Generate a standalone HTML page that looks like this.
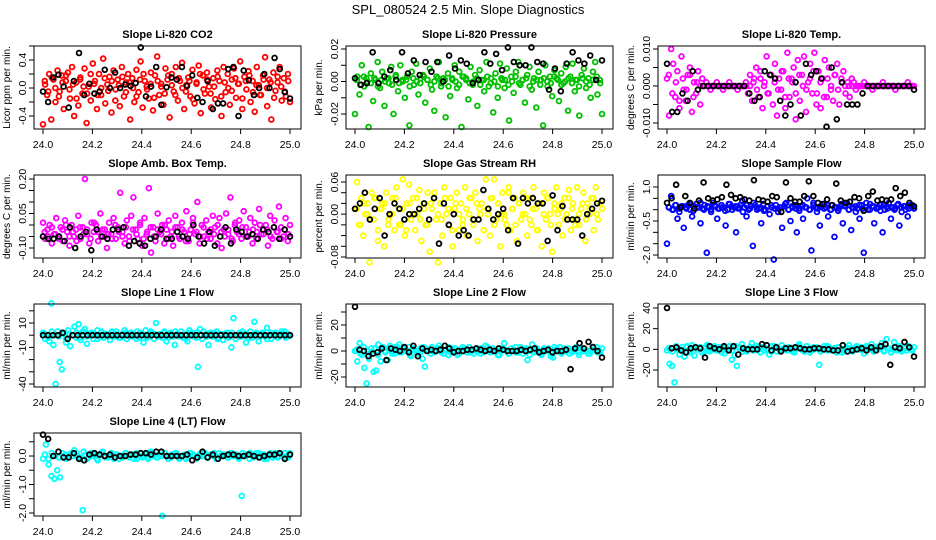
<!DOCTYPE html>
<html>
<head>
<meta charset="utf-8">
<style>
  html, body { margin: 0; padding: 0; background: #fff; }
  svg { display: block; font-family: "Liberation Sans", sans-serif; }
</style>
</head>
<body>
<svg id="chart" width="936" height="540" viewBox="0 0 936 540">
  <text x="468" y="14" text-anchor="middle" font-size="13" fill="#000">SPL_080524  2.5 Min. Slope Diagnostics</text>
</svg>
<script>
// ---------------- data ----------------
const xTickLabels = ["24.0","24.2","24.4","24.6","24.8","25.0"];
const xTickValues = [24.0,24.2,24.4,24.6,24.8,25.0];
const xStart = 24.0;
const xEnd = 25.0;

const co2Values = [-0.52,0.05,-0.1,0.2,-0.45,0.12,-0.2,0.25,-0.05,0.18,-0.3,0.1,0.22,-0.15,0.3,-0.4,0.08,-0.25,0.15,-0.08,0.28,-0.5,0.02,-0.18,0.35,0.1,-0.3,0.2,-0.1,0.42,-0.22,0.05,0.16,-0.35,0.25,-0.02,0.12,-0.26,0.3,-0.12,0.08,0.2,-0.45,0.14,-0.2,0.26,-0.06,0.38,-0.28,0.1,0.02,-0.15,0.22,-0.32,0.18,0.45,-0.1,0.06,-0.24,0.28,0.12,-0.42,0.2,-0.05,0.3,-0.18,0.1,0.36,-0.3,0.04,0.15,-0.12,0.26,-0.22,0.08,0.32,-0.36,0.18,-0.08,0.22,0.02,-0.28,0.14,-0.16,0.25,0.1,-0.4,0.3,-0.06,0.2,-0.24,0.12,0.28,-0.14,0.06,0.38,-0.3,0.16,-0.02,0.24,-0.2,0.1,-0.34,0.3,0.04,-0.1,0.18,0.44,-0.26,0.12,-0.45,0.22,-0.04,0.08,0.3,-0.18,0.14,-0.12,0.2,-0.2];
const co2Core = [0.1,-0.05,0.15,0.0,-0.12,0.08,0.18,-0.02,0.05,-0.15,0.12,0.02,-0.08,0.2,0.06,-0.1,0.0,0.14,-0.04,0.1,-0.18,0.04,0.16,-0.06,0.08,0.0,-0.12,0.12,0.2,-0.02,0.06,-0.14,0.1,0.02,-0.08,0.18,0.04,-0.1,0.14,0.0,-0.05,0.1,-0.16,0.06,0.2,-0.02,0.12,-0.08,0.02,0.16,-0.12,0.08,0.0,-0.04,0.14,0.06,-0.15,0.1,0.18,-0.06,0.04,-0.1,0.12,0.0,0.08,-0.14,0.16,0.02,-0.05,0.1];
const co2Black = [-0.05,-0.2,0.15,0.19,0.02,-0.28,0.1,0.5,-0.1,0.06,-0.08,-0.05,0.26,0.0,0.22,0.0,0.05,0.03,0.07,0.58,-0.12,0.02,0.3,-0.24,0.01,0.15,0.12,0.3,0.03,0.18,-0.14,-0.2,0.1,-0.3,-0.22,-0.22,0.27,0.3,-0.4,0.25,0.11,-0.1,0.0,0.2,0.0,0.43,0.27,-0.06,-0.15];

const pressValues = [-0.02,0.003,-0.008,0.01,-0.003,0.002,-0.028,0.005,-0.012,0.001,0.012,-0.004,0.006,-0.015,0.002,-0.001,0.009,-0.02,0.004,-0.006,0.01,0.001,-0.01,0.003,-0.027,0.006,-0.002,0.011,-0.008,0.002,0.004,-0.013,0.001,0.008,-0.005,-0.018,0.003,0.012,-0.003,0.002,-0.022,0.005,-0.009,0.001,0.01,-0.004,0.006,-0.028,0.003,0.002,-0.011,0.009,-0.002,0.004,-0.015,0.007,0.001,-0.006,0.012,-0.003,0.002,-0.019,0.005,-0.01,0.011,0.001,-0.004,0.008,-0.024,0.003,-0.007,0.006,0.012,-0.002,0.001,-0.013,0.004,0.009,-0.005,0.002,-0.016,0.006,0.001,-0.027,0.01,-0.003,0.003,-0.009,0.007,0.002,-0.012,0.005,-0.001,0.009,-0.018,0.003,0.011,-0.006,0.001,-0.021,0.004,0.008,-0.004,0.002,-0.01,0.006,0.012,-0.008,0.001,-0.02];
const pressCore = [0.001,-0.002,0.003,0.0,-0.001,0.002,-0.003,0.001,0.0,0.002,-0.002,0.003,-0.001,0.0,0.001,-0.003,0.002,0.0,-0.001,0.003,0.001,-0.002,0.0,0.002,-0.001,0.001,-0.003,0.002,0.0,-0.002,0.003,0.001,-0.001,0.0,0.002,-0.002,0.001,0.003,-0.001,0.0,-0.003,0.002,0.001,-0.002,0.0,0.003,-0.001,0.001,0.002,-0.003,0.0,0.001,-0.002,0.002,0.0,-0.001,0.003,0.001,-0.002,0.0,0.002,-0.001,0.001,-0.003,0.002,0.0,-0.002,0.001,0.003,-0.001];
const pressBlack = [0.002,-0.002,-0.001,0.018,-0.001,0.003,0.007,0.001,0.018,0.005,0.013,0.004,0.012,0.006,0.012,0.0,0.016,0.008,0.013,0.011,-0.001,0.001,0.018,0.011,0.017,0.007,0.021,0.012,0.01,0.01,0.021,0.012,0.011,-0.005,0.008,-0.006,0.011,0.018,0.013,0.011,0.016,0.001,0.013];

const tempValues = [0.002,-0.008,0.01,0.006,-0.003,0.004,-0.006,0.008,-0.001,-0.004,0.003,0.005,-0.007,0.001,-0.002,0.004,-0.005,0.002,0,0.001,0,-0.001,0,0,0.001,0,0,-0.001,0,0,0.001,0,0,0,-0.001,0,0,0,0.001,-0.002,0.003,-0.004,0.002,0.005,-0.003,0.004,-0.006,0.001,0.008,-0.002,0.003,-0.005,0.006,-0.008,0.002,-0.001,0.004,-0.006,0.009,-0.003,0.002,0.005,-0.009,0.007,-0.004,0.003,0.008,-0.007,0.001,0.006,-0.002,0.009,-0.005,0.004,-0.006,0.002,0.007,-0.003,0.005,-0.001,-0.004,0.003,0.006,-0.005,0.002,0.004,-0.002,0.001,-0.003,0.002,0.001,-0.001,0,0,0,0.001,0,0,0,-0.001,0,0,0,0,0.001,0,0,0,0,0,-0.001,0,0,0,0,0,0.001,0,0,0];
const tempCore = [0.003,-0.002,0.001,-0.004,0.002,-0.001,0.003,-0.003,0.001,0,0,0,0,0,0,0,0,0,0,0,0,0,0,0,0.001,-0.001,0.002,0.0,-0.002,0.003,0.001,-0.001,0.004,-0.003,0.002,0.001,-0.002,0.003,0.0,-0.001,0.002,0.004,-0.002,0.001,-0.003,0.002,0.0,0.003,-0.001,0.001,0.0,0,0,0,0,0,0,0,0,0,0,0,0,0,0,0,0,0,0,0];
const tempBlack = [0.006,-0.007,-0.007,-0.002,-0.004,0.004,-0.001,0,0,0,0,0,0,0,0,0,-0.002,-0.004,-0.003,0.004,0.003,0.002,-0.004,-0.008,-0.005,0.001,-0.008,0.006,0.003,0.004,0.002,-0.011,0.005,-0.009,0.001,-0.005,-0.005,-0.005,-0.002,0,0,0,0,0,0,0,0,0,-0.001];

const ambValues = [0.01,-0.06,-0.02,0.0,-0.08,-0.04,0.03,-0.05,-0.01,-0.07,0.02,-0.03,-0.09,0.0,-0.05,-0.02,0.04,-0.06,-0.01,0.2,-0.04,-0.08,0.01,-0.03,0.0,-0.07,0.05,-0.02,-0.05,-0.1,0.01,-0.04,0.03,-0.06,-0.01,0.14,-0.03,-0.08,0.02,-0.05,0.04,0.12,-0.02,-0.06,0.0,-0.09,0.03,-0.04,0.16,-0.12,-0.01,-0.07,0.05,-0.03,0.0,-0.08,-0.02,0.02,-0.05,-0.09,0.04,-0.01,-0.06,0.01,-0.03,0.06,-0.07,-0.02,0.03,-0.04,0.1,-0.08,0.0,-0.05,0.02,-0.03,-0.06,0.04,-0.01,-0.08,0.03,-0.1,-0.02,0.05,-0.04,0.12,-0.07,0.0,-0.03,0.02,-0.06,0.06,-0.01,-0.05,0.03,-0.08,0.01,-0.03,0.07,-0.04,-0.02,0.0,-0.09,0.04,-0.06,0.02,-0.03,0.08,-0.01,-0.05,0.03,-0.07,0.0];
const ambCore = [-0.03,-0.05,-0.01,-0.04,-0.06,-0.02,0.0,-0.05,-0.03,-0.07,-0.01,-0.04,-0.02,-0.06,0.01,-0.03,-0.05,-0.02,-0.04,-0.06,0.0,-0.03,-0.05,-0.01,-0.07,-0.02,-0.04,0.01,-0.06,-0.03,-0.01,-0.05,-0.02,-0.04,0.0,-0.06,-0.03,-0.01,-0.05,-0.02,-0.07,-0.04,0.01,-0.03,-0.05,-0.01,-0.06,-0.02,-0.04,0.0,-0.03,-0.05,-0.02,-0.06,0.01,-0.04,-0.01,-0.05,-0.03,-0.02,-0.06,0.0,-0.04,-0.02,-0.05,-0.01,-0.03,-0.06,-0.02,-0.04];
const ambBlack = [-0.05,-0.06,-0.06,-0.05,-0.07,-0.01,-0.1,-0.05,-0.03,-0.11,-0.02,-0.05,-0.06,-0.02,-0.02,-0.01,-0.09,-0.07,-0.08,-0.09,-0.06,-0.05,-0.02,-0.06,-0.06,-0.03,-0.05,-0.06,0.0,-0.05,-0.08,-0.03,-0.09,-0.05,-0.01,-0.08,-0.02,-0.03,-0.05,-0.04,-0.06,-0.02,-0.03,-0.01,-0.06,-0.02,-0.05];

const rhValues = [0.01,0.06,-0.02,0.03,-0.04,0.0,0.02,-0.09,0.04,-0.01,0.03,-0.05,0.01,0.02,-0.06,0.04,-0.02,0.0,0.03,-0.03,0.05,0.01,-0.02,0.065,-0.04,0.02,0.055,-0.01,0.03,-0.03,0.0,0.045,-0.05,0.02,-0.02,0.04,-0.07,0.01,0.03,-0.01,-0.09,0.02,-0.04,0.05,0.0,-0.02,0.03,-0.06,0.01,0.04,-0.03,0.02,-0.01,0.05,-0.04,0.0,0.03,-0.02,0.04,-0.05,0.01,0.02,-0.03,0.065,0.0,-0.04,0.03,0.065,-0.01,0.02,-0.06,0.04,0.0,-0.02,0.05,-0.03,0.01,0.03,-0.05,0.02,-0.01,0.04,0.0,-0.04,0.03,-0.02,0.05,0.01,-0.03,0.02,-0.06,0.04,-0.01,0.03,0.0,-0.07,0.02,0.05,-0.02,0.01,-0.04,0.03,0.0,0.045,-0.03,0.02,-0.01,0.05,-0.02,0.01,0.04,-0.05,0.02,0.0,0.03,-0.03,0.05,-0.01,0.02,0.01];
const rhCore = [0.01,-0.02,0.02,0.0,-0.01,0.03,-0.03,0.01,0.02,-0.01,0.0,0.03,-0.02,0.01,-0.03,0.02,0.0,0.03,-0.01,0.01,-0.02,0.02,0.04,0.0,-0.01,0.03,0.01,-0.03,0.02,0.0,-0.02,0.01,0.03,-0.01,0.02,0.0,-0.03,0.01,0.03,-0.02,0.02,0.0,-0.01,0.04,0.01,-0.02,0.02,0.0,0.03,-0.01,0.01,-0.03,0.02,0.0,0.03,-0.02,0.01,0.0,0.02,-0.01,0.03,0.01,-0.02,0.0,0.02,-0.01,0.01,0.03,0.0,0.02];
const rhBlack = [0.01,0.02,0.04,-0.01,0.01,0.03,-0.04,0.0,0.02,0.01,-0.01,0.0,0.0,0.01,0.02,-0.01,0.03,-0.055,0.02,-0.02,0.0,-0.04,-0.03,-0.04,-0.01,-0.01,0.045,0.01,-0.01,0.0,0.01,-0.03,0.03,-0.055,0.03,0.02,0.03,0.02,0.02,-0.05,0.035,-0.03,0.015,-0.01,-0.01,-0.01,-0.04,0.0,0.01,0.02,0.025];

const sampleValues = [-1.5,0.1,0.6,0.0,0.2,-0.4,0.05,0.15,-0.8,0.1,0.2,0.0,-0.3,0.15,0.25,0.1,-0.6,0.05,0.2,-1.9,0.1,0.0,0.3,0.15,-0.4,0.05,0.2,0.1,-0.7,0.0,0.25,0.15,0.1,-1.0,0.05,0.2,0.4,0.1,-0.3,0.0,0.15,-1.6,0.2,0.1,0.05,-0.6,0.25,0.0,0.15,-0.2,0.1,-2.2,0.2,0.05,0.1,-0.8,0.15,0.3,0.0,-0.5,0.1,0.2,-1.0,0.05,0.15,-0.4,0.1,0.5,0.0,-1.8,0.2,0.1,0.05,-0.7,0.15,0.25,0.1,-0.3,0.0,0.2,-1.2,0.1,0.05,0.15,-0.6,0.2,0.3,0.0,-0.9,0.1,0.15,0.05,-0.4,0.2,-1.9,0.1,0.0,0.25,0.15,-0.6,0.05,0.1,0.2,-1.0,0.0,0.15,0.3,-0.4,0.1,0.05,0.2,-0.7,0.1,0.15,0.0,-0.3,0.2,0.1,0.05];
const sampleCore = [0.1,0.0,0.2,-0.1,0.15,0.05,0.25,-0.05,0.1,0.3,0.0,0.15,-0.1,0.2,0.05,0.1,-0.05,0.25,0.0,0.15,0.1,-0.1,0.2,0.05,0.3,0.0,0.1,-0.05,0.15,0.2,0.05,-0.1,0.1,0.25,0.0,0.15,0.05,-0.05,0.2,0.1,0.0,0.3,-0.1,0.15,0.05,0.2,0.0,0.1,-0.05,0.25,0.15,0.0,0.1,-0.1,0.2,0.05,0.3,0.0,0.15,0.1,-0.05,0.2,0.05,0.1,0.0,0.25,-0.1,0.15,0.05,0.2];
const sampleBlack = [0.3,0.5,1.1,0.1,0.6,0.3,0.05,0.4,1.2,0.5,0.4,0.45,0.55,1.1,0.65,0.5,0.55,0.45,0.4,1.3,0.45,0.4,0.35,0.6,0.55,-0.1,1.2,0.5,0.35,0.35,0.6,1.25,0.6,0.3,0.25,0.45,0.2,1.15,0.4,0.3,0.35,0.55,0.5,-0.05,0.6,0.8,0.4,0.45,0.4,0.45,0.95,0.6,0.75,0.3,0.15];

const line1Values = [2,-3,0,-5,26,-8,-40,3,-22,-28,1,-6,4,-9,0,7,-2,9,-4,3,5,-7,1,2,-3,0,4,-1,3,-2,1,0,-4,2,-1,3,0,-2,1,4,-3,0,2,-1,0,3,-2,1,-6,4,0,-1,2,-3,10,0,1,-2,3,-5,0,2,-1,-8,1,0,3,-2,1,-5,4,0,-1,2,-26,5,-3,0,1,-8,2,-1,0,3,-2,1,-4,0,2,-1,-10,14,-3,0,2,-1,1,-6,0,3,-2,11,1,-5,0,2,-1,6,0,-3,1,2,0,-1,3,0,-2,1,0];
const line1Core = [1,-2,3,0,-1,2,-3,1,0,2,-2,3,-1,0,1,-3,2,0,-1,3,1,-2,0,2,-1,1,-3,2,0,-2,3,1,-1,0,2,-2,1,3,-1,0,-3,2,1,-2,0,3,-1,1,2,-3,0,1,-2,2,0,-1,3,1,-2,0,2,-1,1,-3,2,0,-2,1,3,-1];
const line1Black = [0,0,0,0,2,-3,0,0,0,0,0,0,0,0,0,0,0,0,0,0,0,0,0,0,0,0,0,0,0,0,0,0,0,0,0,0,0,0,0,0,0,0,0,0,0,0,0,0,0,0,0];

const line2Values = [0,-8,6,-3,-13,-25,-6,2,-16,-15,5,-8,3,-1,-7,4,0,-2,3,5,-1,2,0,3,-4,1,0,-2,2,-6,-12,1,0,3,-1,2,4,0,-2,1,3,-1,0,2,-3,1,0,2,-1,3,0,-2,1,0,2,-1,4,0,-1,2,1,0,-3,1,6,0,-2,2,1,-1,0,3,-2,1,-7,0,5,-1,2,0,-3,1,0,2,-4,-5,1,0,3,-1,2,0,-2,1,0,3,-1,2,0,1,-2,0,3,1,-1,0,2];
const line2Core = [1,-2,3,0,-1,2,-3,1,0,2,-2,3,-1,0,1,-3,2,0,-1,3,1,-2,0,2,-1,1,-3,2,0,-2,3,1,-1,0,2,-2,1,3,-1,0,-3,2,1,-2,0,3,-1,1,2,-3,0,1,-2,2,0,-1,3,1,-2,0,2,-1,1,-3,2,0,-2,1,3,-1];
const line2Black = [34,1,0,-4,-2,-1,2,-7,2,1,0,3,-1,4,-4,2,0,1,0,1,4,2,-1,0,0,1,1,2,1,0,1,0,2,1,0,0,0,1,0,1,2,-1,0,1,-1,0,0,1,-14,2,6,2,7,3,0,-5];

const line3Values = [-1,-14,-16,-32,0,-5,2,-7,3,-1,4,-6,0,2,-3,1,4,-2,0,3,-1,2,0,-4,1,3,-10,-6,-16,2,5,0,-2,1,6,-1,3,0,2,-1,0,-5,3,1,-2,0,4,1,-1,2,0,-3,1,5,0,-2,3,1,-1,0,2,-15,0,3,-1,2,0,1,-3,2,0,-2,1,4,0,-1,3,0,2,-4,1,0,5,-1,2,0,6,-2,10,1,0,7,-1,3,0,2,-1,1,0,2];
const line3Core = [1,-2,3,0,-1,2,-3,1,0,2,-2,3,-1,0,1,-3,2,0,-1,3,1,-2,0,2,-1,1,-3,2,0,-2,3,1,-1,0,2,-2,1,3,-1,0,-3,2,1,-2,0,3,-1,1,2,-3,0,1,-2,2,0,-1,3,1,-2,0,2,-1,1,-3,2,0,-2,1,3,-1];
const line3Black = [40,1,2,-1,-3,1,2,1,-8,3,1,0,3,-1,3,-5,1,0,0,0,5,4,-1,2,-2,1,1,2,1,0,0,1,1,0,0,-1,-1,4,-2,-1,0,1,-1,2,-1,3,5,-15,2,1,7,2,-7];

const line4Values = [-0.1,0.4,-0.3,-0.7,-0.8,-0.5,-0.75,0.0,0.05,-0.05,0.1,0.2,0.0,-0.1,-1.9,0.05,-0.05,0.1,0.0,-0.1,0.05,0.15,-0.05,0.0,0.1,-0.1,0.05,0.0,-0.05,0.1,0.0,0.05,-0.1,0.1,0.0,-0.05,0.05,-0.1,0.1,0.0,-0.05,0.05,-2.1,0.1,0.0,-0.05,0.05,0.1,-0.1,0.0,0.05,-0.05,0.1,0.0,-0.1,0.05,0.0,0.1,-0.05,0.05,0.0,-0.1,0.1,0.05,0.0,-0.05,0.1,0.0,0.05,-0.1,-1.4,0.0,0.05,0.1,-0.05,0.0,0.1,0.05,-0.1,0.0,0.05,-0.05,0.1,0.0,0.05,-0.05,0.0,0.1];
const line4Core = [0.05,-0.1,0.1,0.0,-0.05,0.1,-0.1,0.05,0.0,0.1,-0.05,0.15,-0.1,0.0,0.05,-0.15,0.1,0.0,-0.05,0.1,0.05,-0.1,0.0,0.1,-0.05,0.05,-0.1,0.1,0.0,-0.05,0.15,0.05,-0.05,0.0,0.1,-0.1,0.05,0.1,-0.05,0.0,-0.1,0.1,0.05,-0.05,0.0,0.1,-0.05,0.05,0.1,-0.1,0.0,0.05,-0.05,0.1,0.0,-0.05,0.1,0.05,-0.1,0.0,0.1,-0.05,0.05,-0.1,0.1,0.0,-0.05,0.05,0.1,-0.05];
const line4Black = [0.75,0.6,0.0,0.15,-0.05,-0.05,0.1,-0.1,-0.15,0.05,0.1,0.05,0.0,0.05,-0.05,0.0,0.0,0.05,0.05,0.1,0.1,0.05,0.15,0.15,0.0,0.0,0.0,0.0,0.05,-0.15,-0.05,0.15,-0.05,0.05,-0.1,0.0,0.05,0.05,0.0,0.0,0.05,0.0,-0.05,0.0,0.05,0.05,0.1,-0.1,0.05];

// ---------------- layout (pixels, not data) ----------------
const colLeft = [34, 346, 658];
const rowTop = [46, 175, 304, 433];
const boxW = 267, boxH = 83;
const panels = [
  {name:"co2", title:"Slope Li-820 CO2", ylab:"Licor ppm per min.", col:0,row:0, color:"#ff0000", vals:co2Values, core:co2Core, blk:co2Black, ref:[0.4,60,-0.4,116], ticks:[-0.4,-0.2,0,0.2,0.4,0.6], labels:{"-0.4":"-0.4","0":"0.0","0.4":"0.4"}},
  {name:"pressure", title:"Slope Li-820 Pressure", ylab:"kPa per min.", col:1,row:0, color:"#00c000", vals:pressValues, core:pressCore, blk:pressBlack, ref:[0.02,49,-0.02,114], ticks:[-0.02,-0.01,0,0.01,0.02], labels:{"-0.02":"-0.02","0":"0.00","0.02":"0.02"}},
  {name:"temp", title:"Slope Li-820 Temp.", ylab:"degrees C per min.", col:2,row:0, color:"#ff00ff", vals:tempValues, core:tempCore, blk:tempBlack, ref:[0.01,49,-0.01,123], ticks:[-0.01,-0.005,0,0.005,0.01], labels:{"-0.01":"-0.010","0":"0.000","0.01":"0.010"}},
  {name:"amb-box-temp", title:"Slope Amb. Box Temp.", ylab:"degrees C per min.", col:0,row:1, color:"#ff00ff", vals:ambValues, core:ambCore, blk:ambBlack, ref:[0.2,179,-0.1,248], ticks:[-0.1,-0.05,0,0.05,0.1,0.15,0.2], labels:{"-0.1":"-0.10","0.05":"0.05","0.2":"0.20"}},
  {name:"gas-stream-rh", title:"Slope Gas Stream RH", ylab:"percent per min.", col:1,row:1, color:"#ffff00", vals:rhValues, core:rhCore, blk:rhBlack, ref:[0.06,182,-0.08,257], ticks:[-0.08,-0.06,-0.04,-0.02,0,0.02,0.04,0.06], labels:{"-0.08":"-0.08","0":"0.00","0.06":"0.06"}},
  {name:"sample-flow", title:"Slope Sample Flow", ylab:"ml/min per min.", col:2,row:1, color:"#0000ff", vals:sampleValues, core:sampleCore, blk:sampleBlack, ref:[1.0,187,-2.0,255], ticks:[-2,-1.5,-1,-0.5,0,0.5,1], labels:{"1":"1.0","-0.5":"-0.5","-2":"-2.0"}},
  {name:"line1-flow", title:"Slope Line 1 Flow", ylab:"ml/min per min.", col:0,row:2, color:"#00ffff", vals:line1Values, core:line1Core, blk:line1Black, ref:[10,323,-40,384], ticks:[-40,-30,-20,-10,0,10,20], labels:{"10":"10","-10":"-10","-40":"-40"}},
  {name:"line2-flow", title:"Slope Line 2 Flow", ylab:"ml/min per min.", col:1,row:2, color:"#00ffff", vals:line2Values, core:line2Core, blk:line2Black, ref:[20,325,-20,377], ticks:[-20,-10,0,10,20,30], labels:{"20":"20","0":"0","-20":"-20"}},
  {name:"line3-flow", title:"Slope Line 3 Flow", ylab:"ml/min per min.", col:2,row:2, color:"#00ffff", vals:line3Values, core:line3Core, blk:line3Black, ref:[40,308,-20,370], ticks:[-20,0,20,40], labels:{"40":"40","20":"20","0":"0","-20":"-20"}},
  {name:"line4-lt-flow", title:"Slope Line 4 (LT) Flow", ylab:"ml/min per min.", col:0,row:3, color:"#00ffff", vals:line4Values, core:line4Core, blk:line4Black, ref:[0,456,-2,513], ticks:[-2,-1.5,-1,-0.5,0,0.5], labels:{"0":"0.0","-1":"-1.0","-2":"-2.0"}}
];

const NS = "http://www.w3.org/2000/svg";
const svg = document.getElementById("chart");
function mk(tag, attrs, parent) {
  const e = document.createElementNS(NS, tag);
  for (const k in attrs) e.setAttribute(k, attrs[k]);
  parent.appendChild(e);
  return e;
}

panels.forEach(p => {
  const L = colLeft[p.col], T = rowTop[p.row];
  const g = mk("g", {}, svg);
  
  
  const xs = v => L + 9 + (v - xStart) / (xEnd - xStart) * 247;
  const k = (p.ref[3] - p.ref[1]) / (p.ref[2] - p.ref[0]);
  const ys = v => p.ref[1] + (v - p.ref[0]) * k;

  const t = mk("text", {x: L + boxW/2, y: T - 8, "text-anchor":"middle", "font-size":"11", "font-weight":"bold"}, g);
  t.textContent = p.title;
  
  

  const pts = mk("g", {fill:"none", "stroke-width":"1.8"}, g);
  
  
  [p.vals, p.core].forEach(arr => {
    const n = arr.length;
    arr.forEach((v, i) => {
      const c = mk("circle", {cx: xs(xStart + (i + (arr === p.core ? 0.5 : 0))/(n - (arr === p.core ? 0 : 1))*(xEnd-xStart)), cy: ys(v), r: 2.4, stroke: p.color}, pts);
      
      
    });
  });
  const m = p.blk.length;
  p.blk.forEach((v, i) => {
    const c = mk("circle", {cx: xs(xStart + i/(m-1)*(xEnd-xStart)), cy: ys(v), r: 2.4, stroke: "#000"}, pts);
    
    
  });

  const box = mk("rect", {x: L, y: T, width: boxW, height: boxH, fill:"none", stroke:"#000", "stroke-width":"1"}, g);
  
  

  const xa = mk("g", {}, g);
  
  
  xTickValues.forEach((v, i) => {
    const x = xs(v);
    mk("line", {x1:x, x2:x, y1:T+boxH, y2:T+boxH+5, stroke:"#000"}, xa);
    const lt = mk("text", {x:x, y:T+boxH+19, "text-anchor":"middle", "font-size":"10.5"}, xa);
    lt.textContent = xTickLabels[i];
    
    
  });

  const ya = mk("g", {}, g);
  
  
  p.ticks.forEach(v => {
    const y = ys(v);
    if (y < T - 1 || y > T + boxH + 1) return;
    mk("line", {x1:L-5, x2:L, y1:y, y2:y, stroke:"#000"}, ya);
    const key = String(v);
    if (p.labels[key] !== undefined) {
      const lt = mk("text", {x:0, y:0, "text-anchor":"middle", "font-size":"10.5", transform:`translate(${L-8},${y}) rotate(-90)`}, ya);
      lt.textContent = p.labels[key];
      
      
    }
  });
  const yt = mk("text", {x:0, y:0, "text-anchor":"middle", "font-size":"10", transform:`translate(${L-24},${T+boxH/2}) rotate(-90)`}, g);
  yt.textContent = p.ylab;
  
  
});
</script>
</body>
</html>
